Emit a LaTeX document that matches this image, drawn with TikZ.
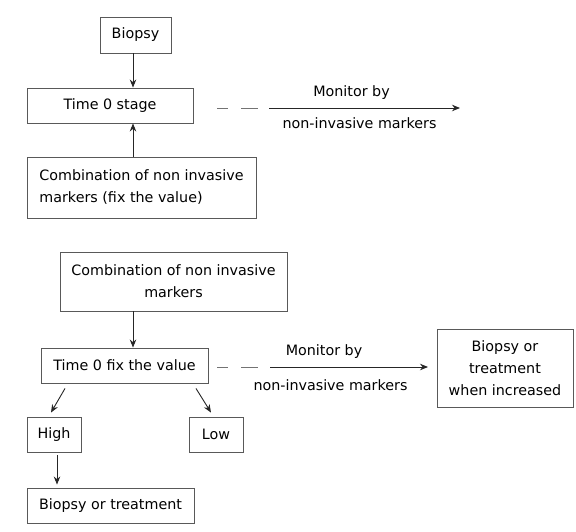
\documentclass[tikz,border=0pt]{standalone}
\usepackage{fontspec}
\setmainfont{DejaVu Sans}
\usetikzlibrary{arrows.meta}

\tikzstyle{block}=[rectangle,
    draw=black!65,
    line width=0.9pt,
    inner sep=0pt,
    align=center,
    font=\fontsize{14.3}{22}\selectfont]
\tikzstyle{textnode}=[inner sep=0pt,
    font=\fontsize{14.3}{22}\selectfont]
\tikzstyle{arrowline}=[draw=black!85,
    line width=0.9pt,
    -{Stealth[length=8pt,width=6.5pt]}]
\tikzstyle{dashline}=[draw=black!55,
    line width=0.9pt,
    dash pattern=on 11pt off 13pt on 17pt off 30pt]

\begin{document}
\begin{tikzpicture}[x=1pt,y=1pt]
            \useasboundingbox (0,0) rectangle (576,-532);
            \coordinate (axis) at (133,0);
            % first scheme
            \node (biopsy) [block, minimum width=71pt, minimum height=36pt] at (135.5,-35) {Biopsy};
            \node (time0) [block, minimum width=166pt, minimum height=35pt] at (110,-105.5) {Time 0 stage};
            \node (combo1) [block, align=left, minimum width=229pt, minimum height=61pt] at (141.5,-187.5)
                {Combination of non invasive\\markers (fix the value)};
            \coordinate (split1) at (269,-108);
            \coordinate (mon1) at (460,-108);
            \node (mon1a) [textnode] at (351.5,-93) {Monitor by};
            \node (mon1b) [textnode] at (359.5,-123) {non-invasive markers};
            \draw [arrowline] (axis |- biopsy.south) -- (axis |- time0.north);
            \draw [arrowline] (axis |- combo1.north) -- (axis |- time0.south);
            \draw [dashline] ([xshift=24pt]split1 -| time0.east) -- (split1);
            \draw [arrowline] (split1) -- (mon1);
            % second scheme
            \node (combo2) [block, minimum width=227pt, minimum height=59pt] at (173.5,-281.5)
                {Combination of non invasive\\markers};
            \node (time0fix) [block, minimum width=167pt, minimum height=35pt] at (124.5,-365.5) {Time 0 fix the value};
            \node (high) [block, minimum width=54pt, minimum height=35pt] at (54,-434.5) {High};
            \node (low) [block, minimum width=54pt, minimum height=35pt] at (216,-434.5) {Low};
            \node (biotreat) [block, minimum width=167pt, minimum height=35pt] at (110.5,-505.5) {Biopsy or treatment};
            \node (increased) [block, minimum width=136pt, minimum height=78pt] at (505,-368)
                {Biopsy or\\treatment\\when increased};
            \coordinate (split2) at (270,-367);
            \coordinate (mon2) at (428,-367);
            \node (mon2a) [textnode] at (324,-352) {Monitor by};
            \node (mon2b) [textnode] at (330.5,-385) {non-invasive markers};
            \draw [arrowline] (axis |- combo2.south) -- (axis |- time0fix.north);
            \draw [arrowline] ([shift={(-59.5pt,-5pt)}]time0fix.south) -- ([shift={(-3pt,4pt)}]high.north);
            \draw [arrowline] ([shift={(71.5pt,-5pt)}]time0fix.south) -- ([shift={(-5pt,4pt)}]low.north);
            \draw [arrowline, shorten <=3pt, shorten >=3pt] ([xshift=3pt]high.south) -- ([xshift=3pt]high.south |- biotreat.north);
            \draw [dashline] ([xshift=9pt]split2 -| time0fix.east) -- (split2);
            \draw [arrowline] (split2) -- (mon2);
        \end{tikzpicture}
\end{document}
